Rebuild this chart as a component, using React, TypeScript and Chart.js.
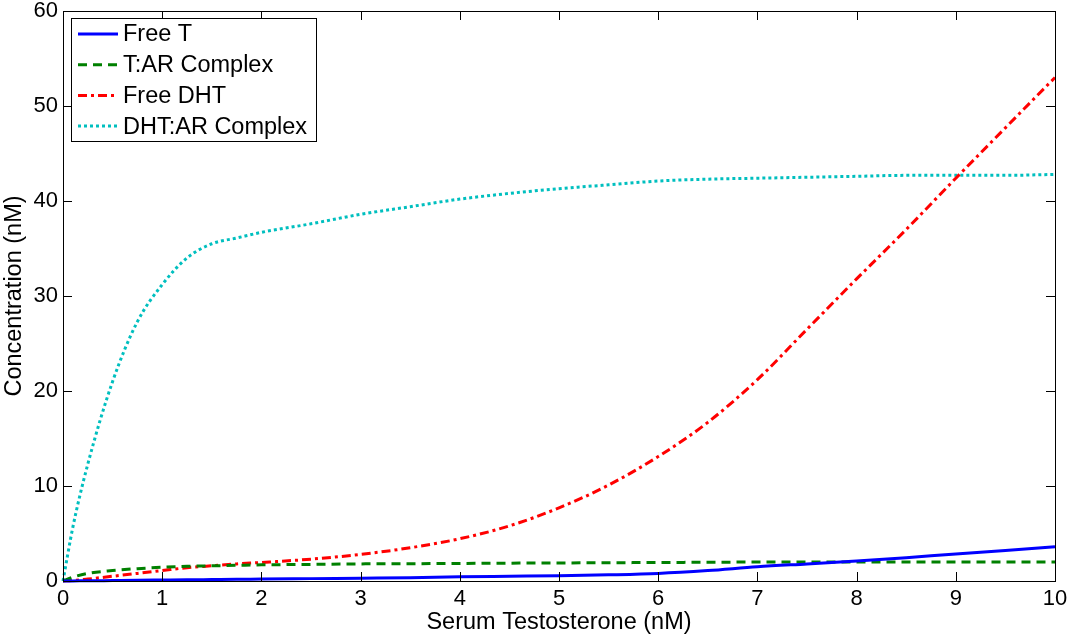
import React, { useEffect, useRef } from "react";
import { Chart, registerables } from "chart.js";

Chart.register(...registerables);

// serum testosterone levels (nM), x axis
const serumT = [0, 0.1, 0.25, 0.5, 0.75, 1, 1.25, 1.5, 1.75, 2, 2.5, 3, 3.5, 4, 4.5, 5, 5.5, 6, 6.5, 7, 7.5, 8, 8.5, 9, 9.5, 10];

const freeT = [0, 0.01, 0.02, 0.05, 0.08, 0.1, 0.12, 0.15, 0.18, 0.2, 0.25, 0.3, 0.35, 0.45, 0.5, 0.55, 0.65, 0.8, 1.1, 1.5, 1.8, 2.1, 2.45, 2.85, 3.2, 3.6];
const tArComplex = [0, 0.4, 0.8, 1.1, 1.3, 1.45, 1.55, 1.6, 1.65, 1.7, 1.75, 1.8, 1.82, 1.85, 1.88, 1.9, 1.92, 1.95, 1.97, 2.0, 2.0, 2.0, 2.0, 2.0, 2.0, 2.0];
const freeDHT = [0, 0.05, 0.2, 0.5, 0.8, 1.1, 1.4, 1.6, 1.8, 1.95, 2.3, 2.8, 3.5, 4.45, 5.8, 7.7, 10.1, 13.1, 16.7, 21.2, 26.5, 31.8, 37.0, 42.4, 47.7, 53.0];
const dhtArComplex = [0, 5.7, 12.3, 21.0, 27.3, 31.2, 34.0, 35.5, 36.1, 36.7, 37.6, 38.6, 39.4, 40.2, 40.8, 41.3, 41.7, 42.1, 42.3, 42.4, 42.5, 42.6, 42.7, 42.7, 42.7, 42.8];

const seriesLabels = ["Free T", "T:AR Complex", "Free DHT", "DHT:AR Complex"];
const yTicks = [0, 10, 20, 30, 40, 50, 60];
const xTicks = [0, 1, 2, 3, 4, 5, 6, 7, 8, 9, 10];

const FONT = "'Liberation Sans', Arial, sans-serif";

const toPoints = (ys: number[]) => serumT.map((x, i) => ({ x, y: ys[i] }));

// draws the MATLAB-like box, inward ticks and the legend
const framePlugin = {
    id: "frame",
    afterDatasetsDraw(chart: any) {
        const { ctx, chartArea: a, scales } = chart;
        ctx.save();
        ctx.strokeStyle = "#000";
        ctx.lineWidth = 1;
        ctx.setLineDash([]);
        ctx.strokeRect(a.left + 0.5, a.top + 0.5, a.right - a.left, a.bottom - a.top);
        const len = 9;
        ctx.beginPath();
        xTicks.forEach((t) => {
            const px = Math.round(scales.x.getPixelForValue(t)) + 0.5;
            ctx.moveTo(px, a.bottom);
            ctx.lineTo(px, a.bottom - len);
            ctx.moveTo(px, a.top);
            ctx.lineTo(px, a.top + len);
        });
        yTicks.forEach((t) => {
            const py = Math.round(scales.y.getPixelForValue(t)) + 0.5;
            ctx.moveTo(a.left, py);
            ctx.lineTo(a.left + len, py);
            ctx.moveTo(a.right, py);
            ctx.lineTo(a.right - len, py);
        });
        ctx.stroke();

        // legend
        const lx = 71, ly = 18, lw = 245, lh = 123;
        ctx.fillStyle = "#fff";
        ctx.fillRect(lx, ly, lw, lh);
        ctx.strokeRect(lx + 0.5, ly + 0.5, lw, lh);
        ctx.font = "23.5px " + FONT;
        ctx.textBaseline = "middle";
        chart.data.datasets.forEach((ds: any, i: number) => {
            const y = 34 + i * 30.7;
            ctx.strokeStyle = ds.borderColor;
            ctx.lineWidth = ds.borderWidth;
            ctx.setLineDash(ds.borderDash || []);
            ctx.beginPath();
            ctx.moveTo(78, y);
            ctx.lineTo(118, y);
            ctx.stroke();
            ctx.fillStyle = "#000";
            ctx.fillText(ds.label, 123, y + 1);
        });
        ctx.restore();
    },
};

export default function App() {
    const canvas = useRef<HTMLCanvasElement>(null);

    useEffect(() => {
        document.body.style.margin = "0";
        const chart = new Chart(canvas.current!, {
            type: "line",
            data: {
                datasets: [
                    { label: seriesLabels[0], data: toPoints(freeT), borderColor: "#0000ff", borderWidth: 3 },
                    { label: seriesLabels[1], data: toPoints(tArComplex), borderColor: "#008000", borderWidth: 3, borderDash: [9, 6] },
                    { label: seriesLabels[2], data: toPoints(freeDHT), borderColor: "#ff0000", borderWidth: 3, borderDash: [9, 4, 3, 4] },
                    { label: seriesLabels[3], data: toPoints(dhtArComplex), borderColor: "#00bfbf", borderWidth: 3, borderDash: [3, 3] },
                ].map((d) => ({ ...d, pointRadius: 0, fill: false, cubicInterpolationMode: "monotone" as const, clip: false as any })),
            },
            options: {
                animation: false,
                responsive: false,
                maintainAspectRatio: false,
                layout: { padding: { top: 11, right: 20, left: 0, bottom: 0 } },
                plugins: { legend: { display: false }, tooltip: { enabled: false } },
                scales: {
                    x: {
                        type: "linear",
                        min: 0,
                        max: 10,
                        grid: { display: false, drawTicks: false },
                        border: { display: false },
                        ticks: { stepSize: 1, color: "#000", font: { size: 22, family: FONT }, padding: 5, maxRotation: 0 },
                        title: { display: true, text: "Serum Testosterone (nM)", color: "#000", font: { size: 23.5, family: FONT }, padding: { top: 0, bottom: 7 } },
                        afterFit: (s: any) => { s.height = 63; s.paddingLeft = 0; s.paddingRight = 0; },
                    },
                    y: {
                        min: 0,
                        max: 60,
                        grid: { display: false, drawTicks: false },
                        border: { display: false },
                        ticks: { stepSize: 10, color: "#000", font: { size: 22, family: FONT }, padding: 5 },
                        title: { display: true, text: "Concentration (nM)", color: "#000", font: { size: 23.5, family: FONT }, padding: { top: 0, bottom: 0 } },
                        afterFit: (s: any) => { s.width = 63; s.paddingTop = 0; s.paddingBottom = 0; },
                    },
                },
            },
            plugins: [framePlugin],
        });
        return () => chart.destroy();
    }, []);

    return (
        <div style={{ width: 1075, height: 644, background: "#fff" }}>
            <canvas ref={canvas} width={1075} height={644} style={{ display: "block" }}></canvas>
        </div>
    );
}
